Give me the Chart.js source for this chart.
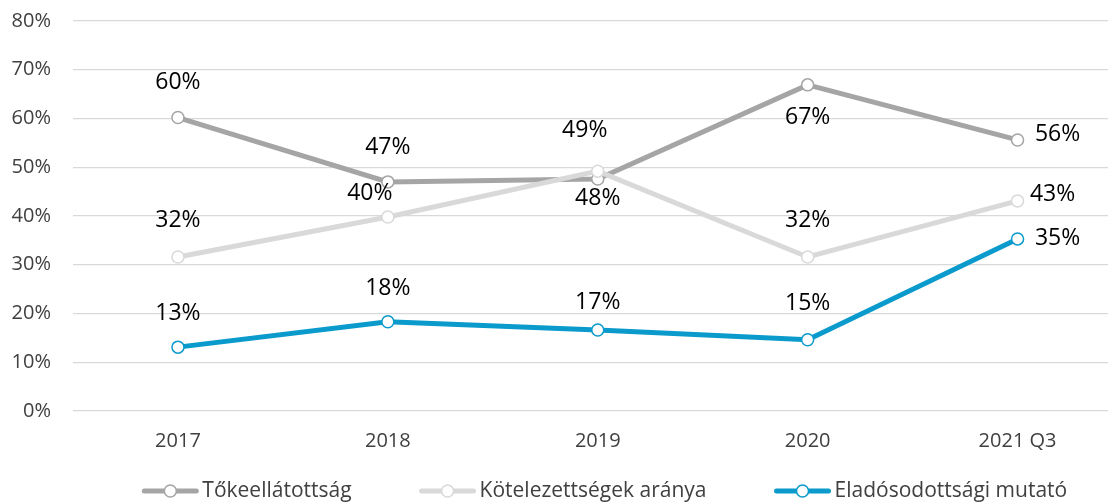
<!DOCTYPE html>
<html>
<head>
<meta charset="utf-8">
<script src="https://cdn.jsdelivr.net/npm/chart.js@4/dist/chart.umd.min.js"></script>
<style>
html,body{margin:0;padding:0;background:#fff;overflow:hidden;width:1108px;height:504px;}
canvas{display:block;}
</style>
</head>
<body>
<canvas id="c" width="1130" height="504"></canvas>
<script>
const categories = ['2017', '2018', '2019', '2020', '2021 Q3'];
const tokeellatottsag = [60.2, 47.0, 47.6, 66.9, 55.6];
const kotelezettsegek = [31.6, 39.8, 49.2, 31.6, 43.1];
const eladosodottsagi = [13.1, 18.3, 16.6, 14.6, 35.3];
const seriesNames = ['Tőkeellátottság', 'Kötelezettségek aránya', 'Eladósodottsági mutató'];
const yTicks = [0, 10, 20, 30, 40, 50, 60, 70, 80];

const FONT = "'Open Sans', sans-serif";
const colors = ['#a5a5a5', '#d9d9d9', '#0a9acb'];

// label placement offsets (dx, dy) per series per point
const labelOffsets = [
  [[0,-35],[0,-34],[0,20],[0,33],[40,-5]],
  [[0,-36],[-18,-24],[-13,-41],[0,-36],[35,-6]],
  [[0,-34],[0,-33],[0,-28],[0,-36],[40,0]]
];

const dataLabels = {
  id: 'dataLabels',
  afterDatasetsDraw(chart) {
    const ctx = chart.ctx;
    ctx.save();
    ctx.font = "23px " + FONT;
    ctx.fillStyle = '#000';
    ctx.textAlign = 'center';
    ctx.textBaseline = 'middle';
    chart.data.datasets.forEach((ds, i) => {
      const meta = chart.getDatasetMeta(i);
      meta.data.forEach((pt, j) => {
        const off = labelOffsets[i][j];
        ctx.fillText(Math.round(ds.data[j]) + '%', pt.x + off[0], pt.y + off[1]);
      });
    });
    ctx.restore();
  }
};

const customLegend = {
  id: 'customLegend',
  afterDraw(chart) {
    const ctx = chart.ctx;
    ctx.save();
    ctx.font = "21px " + FONT;
    ctx.textBaseline = 'middle';
    const markerW = 56, textGap = 4, itemGap = 68;
    const widths = seriesNames.map(n => markerW + textGap + ctx.measureText(n).width);
    const total = widths.reduce((a, b) => a + b, 0) + itemGap * (seriesNames.length - 1);
    const ca = chart.chartArea;
    let x = (ca.left + ca.right) / 2 + 7 - total / 2;
    const y = 491;
    seriesNames.forEach((n, i) => {
      ctx.strokeStyle = colors[i];
      ctx.lineWidth = 5;
      ctx.lineCap = 'round';
      ctx.beginPath();
      ctx.moveTo(x + 2, y);
      ctx.lineTo(x + markerW - 2, y);
      ctx.stroke();
      ctx.beginPath();
      ctx.arc(x + markerW / 2, y, 6, 0, Math.PI * 2);
      ctx.fillStyle = '#fff';
      ctx.fill();
      ctx.lineWidth = 1.5;
      ctx.stroke();
      ctx.fillStyle = '#404040';
      ctx.textAlign = 'left';
      ctx.fillText(n, x + markerW + textGap, y);
      x += widths[i] + itemGap;
    });
    ctx.restore();
  }
};

const mk = (label, data, i, order) => ({
  label, data, order,
  borderColor: colors[i],
  backgroundColor: '#fff',
  borderWidth: 5,
  pointRadius: 6,
  pointBorderWidth: 1.5,
  pointBackgroundColor: '#fff',
  pointBorderColor: colors[i],
  tension: 0,
  clip: false
});

new Chart(document.getElementById('c'), {
  type: 'line',
  data: {
    labels: categories,
    datasets: [
      mk(seriesNames[0], tokeellatottsag, 0, 3),
      mk(seriesNames[1], kotelezettsegek, 1, 2),
      mk(seriesNames[2], eladosodottsagi, 2, 1)
    ]
  },
  options: {
    responsive: false,
    animation: false,
    events: [],
    layout: { padding: { top: 21, right: 7, left: 0, bottom: 0 } },
    plugins: { legend: { display: false }, tooltip: { enabled: false } },
    scales: {
      x: {
        offset: true,
        grid: { display: false, drawTicks: false },
        border: { display: false },
        ticks: { font: { family: FONT, size: 20 }, color: '#404040', padding: 18, maxRotation: 0 },
        afterFit(s) { s.height = 93; s.paddingLeft = 0; s.paddingRight = 0; s.paddingTop = 0; s.paddingBottom = 0; }
      },
      y: {
        min: 0, max: 80,
        afterBuildTicks(s) { s.ticks = yTicks.map(v => ({ value: v })); },
        grid: { color: '#d9d9d9', lineWidth: 1.3, drawTicks: false },
        border: { display: false },
        ticks: { font: { family: FONT, size: 20 }, color: '#404040', padding: 22, callback: v => v + '%' },
        afterFit(s) { s.width = 73; s.paddingTop = 0; s.paddingBottom = 0; s.paddingLeft = 0; s.paddingRight = 0; }
      }
    }
  },
  plugins: [dataLabels, customLegend]
});
</script>
</body>
</html>
